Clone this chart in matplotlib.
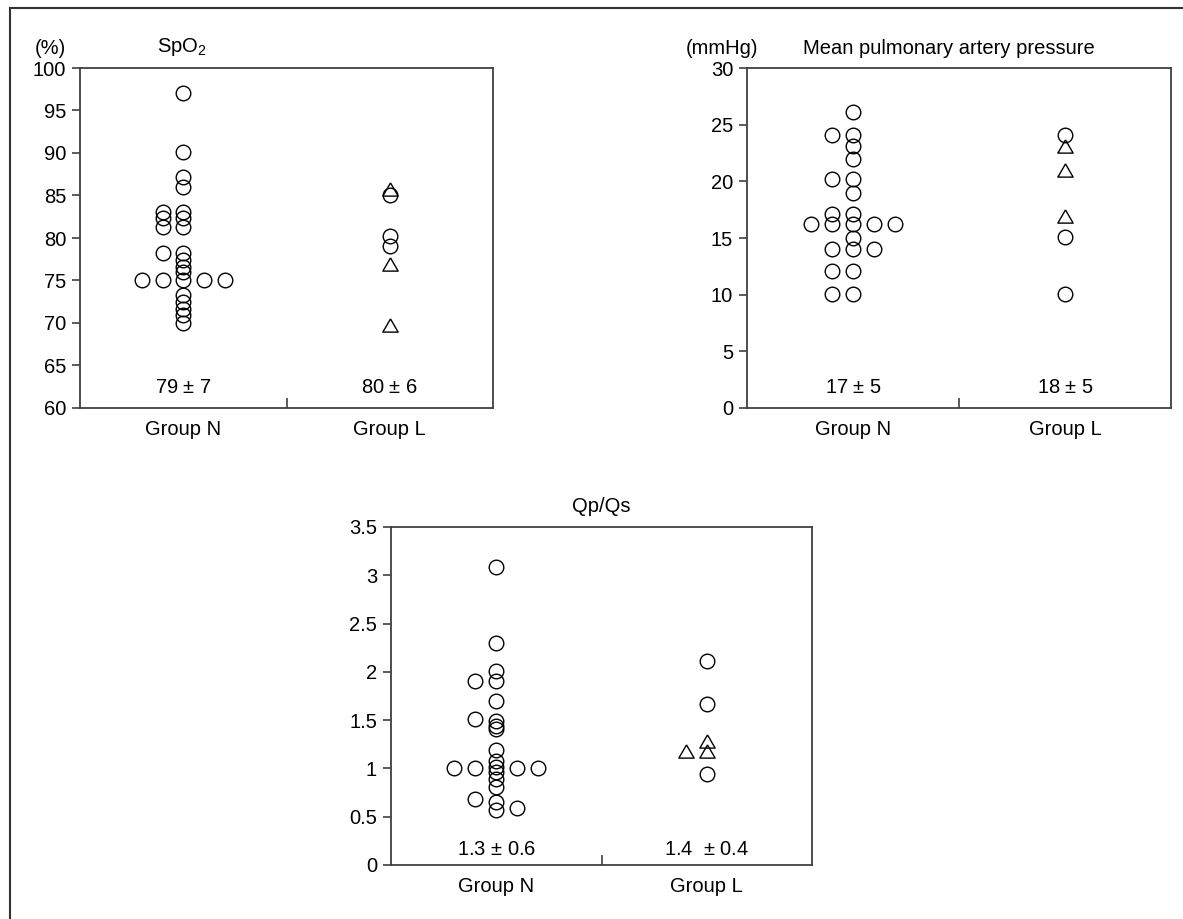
import matplotlib.pyplot as plt
from matplotlib.lines import Line2D

plt.rcParams['font.family'] = ['Liberation Sans', 'DejaVu Sans']
plt.rcParams['mathtext.fontset'] = 'custom'
plt.rcParams['mathtext.rm'] = 'Liberation Sans'
plt.rcParams['font.size'] = 14.5

W, H = 1183, 919

# --- data: SpO2 (%) ---
spo2_n_vals = [97.1, 90.1, 87.2, 86.0, 83.1, 82.3, 81.3, 78.2, 77.4, 76.6, 76.0, 75.0,
               73.3, 72.5, 71.7, 70.9, 70.0,
               83.1, 82.3, 81.3, 78.2, 75.0,
               75.0, 75.0, 75.0]
spo2_n_cols = [0] * 17 + [-1] * 5 + [-2, 1, 2]
spo2_l_circ = [85.1, 80.2, 79.0]
spo2_l_tri = [85.8, 76.9, 69.8]
spo2_l_tri_cols = [0, 0, 0]
spo2_stats = ['79 $\\pm$ 7', '80 $\\pm$ 6']

# --- data: mean pulmonary artery pressure (mmHg) ---
mpap_n_vals = [26.1, 24.1, 23.1, 22.0, 20.2, 19.0, 17.1, 16.2, 15.0, 14.0, 12.1, 10.1,
               24.1, 20.2, 17.1, 16.2, 14.0, 12.1, 10.1,
               16.2, 16.2, 14.0, 16.2]
mpap_n_cols = [0] * 12 + [-1] * 7 + [-2, 1, 1, 2]
mpap_l_circ = [24.1, 15.1, 10.1]
mpap_l_tri = [23.1, 21.0, 16.9]
mpap_l_tri_cols = [0, 0, 0]
mpap_stats = ['17 $\\pm$ 5', '18 $\\pm$ 5']

# --- data: Qp/Qs ---
qpqs_n_vals = [3.09, 2.30, 2.01, 1.91, 1.70, 1.49, 1.44, 1.41, 1.19, 1.08, 1.01, 0.96,
               0.89, 0.81, 0.65, 0.57,
               1.91, 1.51, 1.00, 0.68,
               1.00, 1.00, 0.59, 1.00]
qpqs_n_cols = [0] * 16 + [-1] * 4 + [-2, 1, 1, 2]
qpqs_l_circ = [2.11, 1.67, 0.94]
qpqs_l_tri = [1.28, 1.18, 1.18]
qpqs_l_tri_cols = [0, 0, -1]
qpqs_stats = ['1.3 $\\pm$ 0.6', '1.4  $\\pm$ 0.4']

groups = ['Group N', 'Group L']

TRI = [(0, 0.866), (-1, -0.866), (1, -0.866), (0, 0.866)]
SPINE = '#404040'


def px_rect(l, t, r, b):
    return [l / W, 1 - b / H, (r - l) / W, (b - t) / H]


def panel(rect, n_vals, n_cols, l_circ, l_tri, l_tri_cols, ylim, yticks, stats, stat_y):
    ax = fig.add_axes(rect)
    xn = [1 + 0.1 * c for c in n_cols]
    ax.plot(xn, n_vals, 'o', ls='none', mfc='none', mec='k', ms=10.5, mew=1.0)
    ax.plot([2] * len(l_circ), l_circ, 'o', ls='none', mfc='none', mec='k', ms=10.5, mew=1.0)
    xt = [2 + 0.1 * c for c in l_tri_cols]
    ax.plot(xt, l_tri, marker=TRI, ls='none', mfc='none', mec='k', ms=11, mew=1.0)

    ax.set_xlim(0.5, 2.5)
    ax.set_ylim(*ylim)
    ax.set_yticks(yticks)
    ax.set_yticklabels([f'{t:g}' for t in yticks])
    ax.set_xticks([1, 2])
    ax.set_xticklabels(groups)
    ax.set_xticks([1.5], minor=True)
    ax.tick_params(axis='x', which='major', length=0, pad=9)
    ax.tick_params(axis='x', which='minor', direction='in', length=7, color=SPINE, width=1.2)
    ax.tick_params(axis='y', direction='out', length=6, pad=4, color=SPINE, width=1.2)
    for sp in ax.spines.values():
        sp.set_color(SPINE)
        sp.set_linewidth(1.3)

    for i, s in enumerate(stats):
        ax.text(i + 1, stat_y, s, transform=ax.get_xaxis_transform(),
                ha='center', va='center')
    return ax


fig = plt.figure(figsize=(W / 100, H / 100), dpi=100)

panel(px_rect(80, 68, 493, 408), spo2_n_vals, spo2_n_cols, spo2_l_circ, spo2_l_tri,
      spo2_l_tri_cols, (60, 100), list(range(60, 101, 5)), spo2_stats, 0.059)
panel(px_rect(747, 68, 1171, 408), mpap_n_vals, mpap_n_cols, mpap_l_circ, mpap_l_tri,
      mpap_l_tri_cols, (0, 30), list(range(0, 31, 5)), mpap_stats, 0.059)
panel(px_rect(391, 527, 812, 865), qpqs_n_vals, qpqs_n_cols, qpqs_l_circ, qpqs_l_tri,
      qpqs_l_tri_cols, (0, 3.5), [0, 0.5, 1, 1.5, 2, 2.5, 3, 3.5], qpqs_stats, 0.046)

# units and titles
fig.text(50 / W, 1 - 48 / H, '(%)', ha='center', va='center')
fig.text(182 / W, 1 - 47 / H, 'SpO$_\\mathregular{2}$', ha='center', va='center')
fig.text(722 / W, 1 - 48 / H, '(mmHg)', ha='center', va='center')
fig.text(803 / W, 1 - 48 / H, 'Mean pulmonary artery pressure', ha='left', va='center')
fig.text(601 / W, 1 - 507 / H, 'Qp/Qs', ha='center', va='center')

# outer frame (left and top edges only)
fig.add_artist(Line2D([9.5 / W, 9.5 / W], [0, 1 - 8 / H], color='#333333', lw=1.5))
fig.add_artist(Line2D([9.5 / W, 1], [1 - 8 / H, 1 - 8 / H], color='#333333', lw=1.5))

fig.savefig('out.png', dpi=100)
